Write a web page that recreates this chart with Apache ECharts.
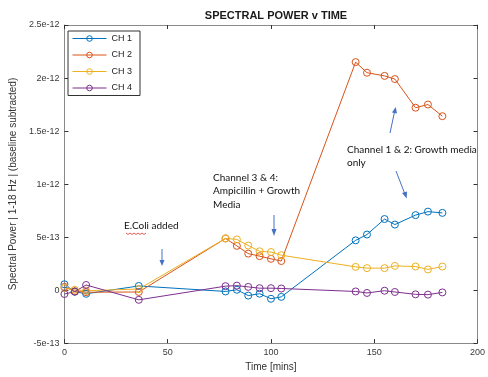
<!DOCTYPE html>
<html><head><meta charset="utf-8">
<script src="https://cdn.jsdelivr.net/npm/echarts@6/dist/echarts.min.js"></script>
<style>html,body{margin:0;padding:0;background:#fff}#c{width:488px;height:377px}</style>
</head><body><div id="c"></div>
<script>
var times = [0, 5, 10.5, 36, 78, 83.5, 89, 94.5, 100, 105, 141, 146.5, 155, 160, 170, 176, 183];
var ch1 = [0.55, -0.15, -0.35, 0.39, -0.13, 0.03, -0.52, -0.34, -0.82, -0.64, 4.69, 5.24, 6.7, 6.18, 7.07, 7.4, 7.28];
var ch2 = [0.3, -0.1, -0.2, -0.18, 4.87, 4.17, 3.44, 3.2, 2.95, 2.74, 21.5, 20.5, 20.2, 19.9, 17.2, 17.5, 16.4];
var ch3 = [0.2, 0.03, -0.06, 0.1, 4.87, 4.78, 4.2, 3.66, 3.59, 3.29, 2.19, 2.07, 2.07, 2.28, 2.22, 1.95, 2.22];
var ch4 = [-0.37, -0.15, 0.48, -0.92, 0.37, 0.42, 0.3, 0.18, 0.18, 0.15, -0.13, -0.27, -0.06, -0.18, -0.4, -0.43, -0.22];
var seriesNames = ['CH 1', 'CH 2', 'CH 3', 'CH 4'];
var colors = ['#0072BD', '#D95319', '#EDB120', '#7E2F8E'];
var scale = 1e-13;
var yTickLabels = ['-5e-13', '0', '5e-13', '1e-12', '1.5e-12', '2e-12', '2.5e-12'];

function pairs(vals){ return times.map(function(t,i){ return [t, vals[i]*scale]; }); }
var all = [ch1, ch2, ch3, ch4];

var chart = echarts.init(document.getElementById('c'), null, {renderer:'canvas'});
var axisCol = '#8a8a8a';
var labelStyle = {color:'#3a3a3a', fontSize:9, fontFamily:'Liberation Sans, Arial, sans-serif'};
function fmtY(v){
  var k = Math.round(v/5e-13) + 1;
  return yTickLabels[k] || '';
}
var annFont = '10px Lato, "Open Sans", sans-serif';
var option = {
  animation:false,
  backgroundColor:'#fff',
  color: colors,
  title:{text:'SPECTRAL POWER v TIME', left:271, textAlign:'center', top:5,
    textStyle:{fontSize:11, fontWeight:'bold', color:'#1a1a1a', fontFamily:'Liberation Sans, Arial, sans-serif'}},
  grid:{left:64, right:10, top:25, bottom:24, containLabel:false},
  legend:{orient:'vertical', left:68, top:31, data:seriesNames.map(function(n){ return {name:n}; }),
    itemWidth:34, itemHeight:7, itemGap:7.5, padding:[3,8,3,4],
    borderColor:'#333', borderWidth:1, backgroundColor:'#fff',
    lineStyle:{width:1},
    itemStyle:{borderWidth:1},
    textStyle:{fontSize:9, color:'#222', fontFamily:'Liberation Sans, Arial, sans-serif'}},
  xAxis:[{type:'value', min:0, max:200, interval:50, position:'bottom',
    name:'Time [mins]', nameLocation:'middle', nameGap:14,
    nameTextStyle:{fontSize:10, color:'#333', fontFamily:'Liberation Sans, Arial, sans-serif'},
    axisLine:{show:true, onZero:false, lineStyle:{color:axisCol, width:1}},
    axisTick:{show:true, inside:true, length:4, lineStyle:{color:'#333'}},
    axisLabel:Object.assign({margin:5}, labelStyle),
    splitLine:{show:false}},
   {type:'value', min:0, max:200, interval:50, position:'top',
    axisLine:{show:true, onZero:false, lineStyle:{color:axisCol, width:1}},
    axisTick:{show:true, inside:true, length:4, lineStyle:{color:'#333'}},
    axisLabel:{show:false}, splitLine:{show:false}}],
  yAxis:[{type:'value', min:-5e-13, max:2.5e-12, interval:5e-13, position:'left',
    name:'Spectral Power | 1-18 Hz | (baseline subtracted)', nameLocation:'middle', nameGap:42,
    nameTextStyle:{fontSize:10, color:'#333', fontFamily:'Liberation Sans, Arial, sans-serif'},
    axisLine:{show:true, onZero:false, lineStyle:{color:axisCol, width:1}},
    axisTick:{show:true, inside:true, length:4, lineStyle:{color:'#333'}},
    axisLabel:Object.assign({margin:5, formatter:fmtY}, labelStyle),
    splitLine:{show:false}},
   {type:'value', min:-5e-13, max:2.5e-12, interval:5e-13, position:'right',
    axisLine:{show:true, onZero:false, lineStyle:{color:axisCol, width:1}},
    axisTick:{show:true, inside:true, length:4, lineStyle:{color:'#333'}},
    axisLabel:{show:false}, splitLine:{show:false}}],
  series: all.map(function(vals, i){
    return {name:seriesNames[i], type:'line', data:pairs(vals), xAxisIndex:0, yAxisIndex:0,
      symbol:'circle', symbolSize:7, showAllSymbol:true,
      lineStyle:{width:1, color:colors[i]},
      itemStyle:{color:'rgba(255,255,255,0)', borderColor:colors[i], borderWidth:1},
      emphasis:{disabled:true}};
  }),
  graphic:[
    {type:'text', left:124, top:221, style:{text:'E.Coli added', font:annFont, fill:'#111'}},
    {type:'polyline', shape:{points:[[126,233],[128,234.5],[130,233],[132,234.5],[134,233],[136,234.5],[138,233],[140,234.5],[142,233],[144,234.5],[146,233]]}, style:{stroke:'#e03030', lineWidth:0.8, fill:null}},
    {type:'line', shape:{x1:162, y1:249, x2:162, y2:261}, style:{stroke:'#4472C4', lineWidth:1}},
    {type:'polygon', shape:{points:[[159.5,260],[164.5,260],[162,266]]}, style:{fill:'#4472C4'}},
    {type:'text', left:213, top:171, style:{text:'Channel 3 & 4:\nAmpicillin + Growth\nMedia', font:annFont, lineHeight:13.5, fill:'#111'}},
    {type:'line', shape:{x1:274, y1:215, x2:274, y2:230}, style:{stroke:'#4472C4', lineWidth:1}},
    {type:'polygon', shape:{points:[[271.5,229],[276.5,229],[274,236]]}, style:{fill:'#4472C4'}},
    {type:'text', left:347, top:143, style:{text:'Channel 1 & 2: Growth media\nonly', font:annFont, lineHeight:13, fill:'#111'}},
    {type:'line', shape:{x1:390, y1:133, x2:394.5, y2:112}, style:{stroke:'#4472C4', lineWidth:1}},
    {type:'polygon', shape:{points:[[392,112.5],[397,113.5],[395.7,107]]}, style:{fill:'#4472C4'}},
    {type:'line', shape:{x1:396, y1:171, x2:404.5, y2:193}, style:{stroke:'#4472C4', lineWidth:1}},
    {type:'polygon', shape:{points:[[402,193],[407,191.5],[406.7,198.5]]}, style:{fill:'#4472C4'}}
  ]
};
chart.setOption(option);
</script></body></html>
